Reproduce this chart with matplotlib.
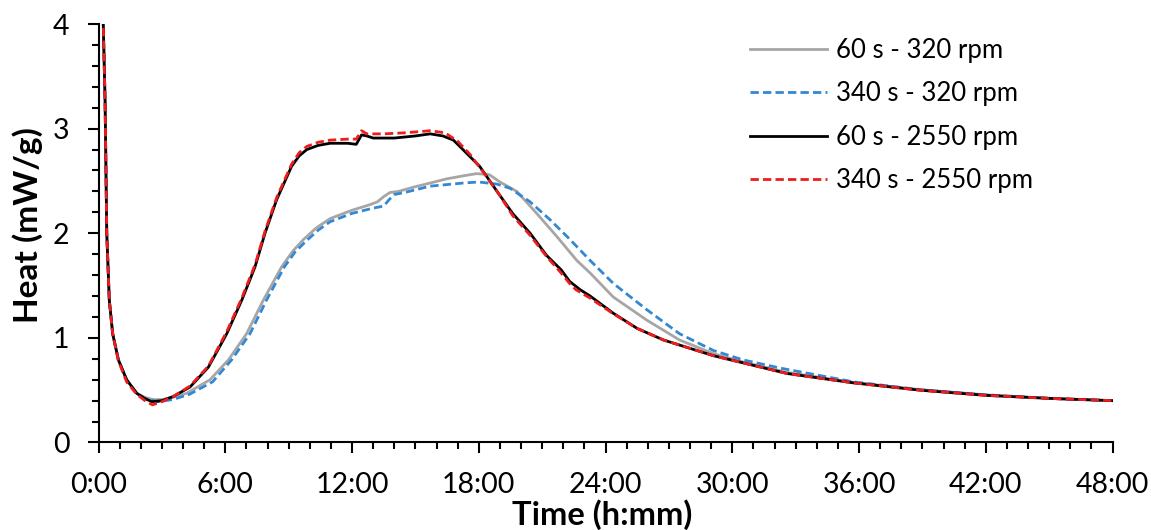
import matplotlib
matplotlib.use("Agg")
import matplotlib.pyplot as plt
from matplotlib.ticker import MultipleLocator, FuncFormatter

plt.rcParams["font.family"] = ["Lato", "DejaVu Sans"]

# heat flow curves, time in hours, heat in mW/g
t_60_320 = [0.2, 0.31, 0.39, 0.51, 0.67, 0.94, 1.33, 1.81, 2.2, 2.6, 3.0, 3.5, 4.17, 5.28,
            6.15, 7.01, 7.8, 8.67, 9.2, 9.7, 10.3, 10.96, 12.0, 12.8, 13.2, 13.5, 13.8, 14.2,
            14.9, 15.7, 16.48, 17.3, 17.9, 18.5, 19.0, 19.8, 20.74, 21.69, 22.64, 23.27,
            24.37, 25.95, 27.5, 29.1, 30.5, 32.58, 35.73, 38.89, 42.05, 45.2, 48.0]
q_60_320 = [4.2, 3.27, 2.0, 1.36, 1.04, 0.79, 0.60, 0.47, 0.43, 0.41, 0.41, 0.43, 0.47, 0.60,
            0.79, 1.04, 1.36, 1.68, 1.83, 1.94, 2.05, 2.14, 2.22, 2.27, 2.30, 2.35, 2.39, 2.40,
            2.44, 2.48, 2.52, 2.55, 2.57, 2.56, 2.49, 2.40, 2.19, 1.97, 1.74, 1.62,
            1.39, 1.17, 0.98, 0.85, 0.77, 0.67, 0.575, 0.505, 0.455, 0.42, 0.40]

t_340_320 = [0.2, 0.31, 0.39, 0.51, 0.67, 0.94, 1.33, 1.81, 2.2, 2.8, 3.5, 4.3, 5.4, 6.3,
             7.17, 7.95, 8.8, 9.3, 9.85, 10.4, 10.96, 12.0, 13.0, 13.5, 13.75, 14.0, 14.5,
             15.69, 17.27, 18.0, 18.85, 19.48, 20.43, 21.37, 22.32, 23.27, 24.37, 25.95,
             27.5, 29.1, 30.5, 32.3, 35.73, 38.89, 42.05, 45.2, 48.0]
q_340_320 = [4.2, 3.27, 2.0, 1.36, 1.04, 0.79, 0.60, 0.47, 0.42, 0.39, 0.41, 0.46, 0.58, 0.79,
             1.04, 1.36, 1.68, 1.82, 1.93, 2.03, 2.11, 2.19, 2.24, 2.26, 2.32, 2.37, 2.39,
             2.45, 2.48, 2.49, 2.47, 2.43, 2.30, 2.13, 1.94, 1.74, 1.52, 1.27,
             1.04, 0.88, 0.79, 0.71, 0.58, 0.505, 0.455, 0.42, 0.40]

t_60_2550 = [0.2, 0.31, 0.39, 0.51, 0.67, 0.94, 1.33, 1.81, 2.2, 2.52, 3.0, 3.54, 4.33, 5.2,
             6.07, 6.78, 7.41, 7.88, 8.43, 9.14, 9.5, 9.86, 10.4, 10.96, 11.8, 12.2, 12.45,
             12.7, 13.0, 14.0, 15.0, 15.7, 16.3, 16.8, 17.25, 18.04, 18.83, 19.6, 20.43, 21.2,
             21.9, 22.3, 22.8, 23.27, 24.37, 25.5, 26.74, 29.1, 32.58, 35.73, 38.89, 42.05,
             45.2, 48.0]
q_60_2550 = [4.2, 3.27, 2.0, 1.36, 1.04, 0.79, 0.60, 0.47, 0.42, 0.39, 0.40, 0.44, 0.53, 0.72,
             1.04, 1.36, 1.68, 2.0, 2.32, 2.64, 2.74, 2.80, 2.84, 2.86, 2.86, 2.85, 2.94,
             2.93, 2.91, 2.91, 2.93, 2.95, 2.93, 2.89, 2.80, 2.64, 2.41, 2.19, 2.0, 1.79,
             1.65, 1.54, 1.46, 1.40, 1.235, 1.09, 0.98, 0.83, 0.66, 0.57, 0.50, 0.45,
             0.42, 0.40]

t_340_2550 = [0.2, 0.31, 0.39, 0.51, 0.67, 0.94, 1.33, 1.81, 2.2, 2.55, 3.0, 3.54, 4.33, 5.2,
              6.07, 6.78, 7.41, 7.88, 8.43, 9.14, 9.5, 9.86, 10.4, 10.96, 11.8, 12.2, 12.45,
              12.7, 13.5, 14.5, 15.7, 16.4, 17.0, 17.6, 18.3, 19.0, 19.6, 20.43, 21.2, 21.9,
              22.3, 22.6, 23.27, 24.37, 25.5, 26.74, 29.1, 32.58, 35.73, 38.89, 42.05, 45.2,
              48.0]
q_340_2550 = [4.2, 3.27, 2.0, 1.36, 1.04, 0.78, 0.58, 0.46, 0.40, 0.36, 0.39, 0.44, 0.54, 0.73,
              1.06, 1.38, 1.70, 2.02, 2.34, 2.66, 2.77, 2.83, 2.87, 2.89, 2.90, 2.90, 2.98,
              2.95, 2.95, 2.96, 2.98, 2.96, 2.88, 2.75, 2.56, 2.36, 2.17, 1.98, 1.78, 1.62,
              1.52, 1.46, 1.38, 1.23, 1.09, 0.98, 0.83, 0.66, 0.57, 0.50, 0.45, 0.42,
              0.40]

labels = ["60 s - 320 rpm", "340 s - 320 rpm", "60 s - 2550 rpm", "340 s - 2550 rpm"]

fig = plt.figure(figsize=(11.51, 5.30), dpi=100)
ax = fig.add_axes([0.0856, 0.1651, 0.881, 0.7896])

lw = 2.0
ax.plot(t_60_320, q_60_320, color="#a6a6a6", lw=lw, label=labels[0])
ax.plot(t_340_320, q_340_320, color="#3388d4", lw=lw, dashes=(3, 1.5), label=labels[1])
ax.plot(t_60_2550, q_60_2550, color="black", lw=lw, label=labels[2])
ax.plot(t_340_2550, q_340_2550, color="#ee1c1c", lw=lw, dashes=(3, 1.5), label=labels[3])

ax.set_xlim(0, 48)
ax.set_ylim(0, 4)
ax.xaxis.set_major_locator(MultipleLocator(6))
ax.xaxis.set_minor_locator(MultipleLocator(1))
ax.yaxis.set_major_locator(MultipleLocator(1))
ax.yaxis.set_minor_locator(MultipleLocator(0.2))
ax.xaxis.set_major_formatter(FuncFormatter(lambda v, p: f"{int(v)}:{int(round((v % 1) * 60)):02d}"))

for s in ("top", "right"):
    ax.spines[s].set_visible(False)
for s in ("left", "bottom"):
    ax.spines[s].set_linewidth(1.5)
ax.tick_params(which="major", direction="out", length=8, width=1.5, labelsize=20.5, pad=13)
ax.tick_params(which="minor", direction="out", length=5, width=1.5)

ax.set_xlabel("Time (h:mm)", fontsize=23.5, fontweight="bold", va="center")
ax.xaxis.set_label_coords(0.497, -0.172)
ax.set_ylabel("Heat (mW/g)", fontsize=24, fontweight="bold", va="center")
ax.yaxis.set_label_coords(-0.0695, 0.52)

ax.legend(loc="upper left", bbox_to_anchor=(0.62, 1.023), frameon=False, fontsize=18.5,
          handlelength=3.0, handletextpad=0.35, labelspacing=0.72)

fig.savefig("out.png", dpi=100)
